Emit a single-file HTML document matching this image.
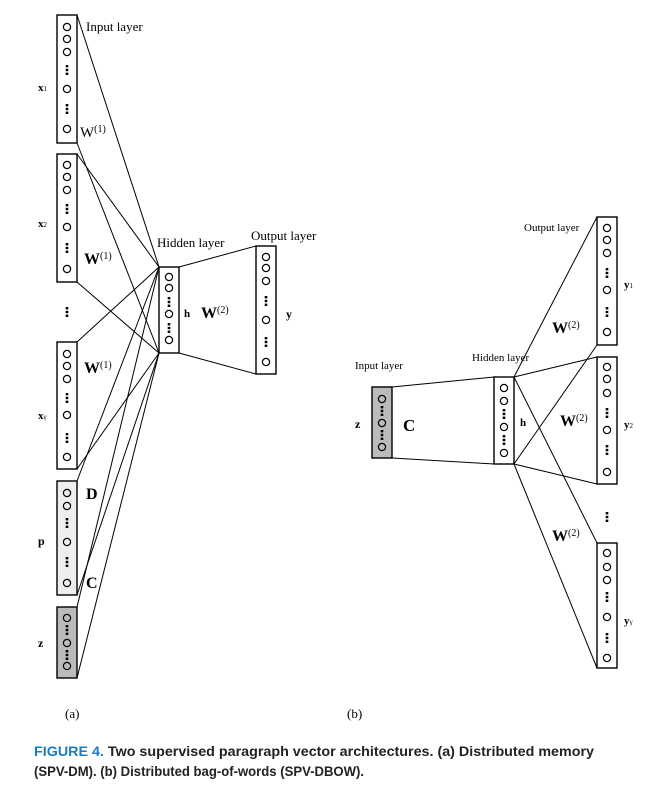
<!DOCTYPE html>
<html><head><meta charset="utf-8"><style>
html,body{margin:0;padding:0;background:#fff;}
svg{display:block;}
.s{font-family:"Liberation Serif",serif;}
</style></head><body>
<svg width="651" height="797" viewBox="0 0 651 797" xmlns="http://www.w3.org/2000/svg">
<defs>
<g id="c"><circle r="3.6" fill="none" stroke="#000" stroke-width="1.2"/></g>
<g id="d"><rect x="-1.3" y="-5" width="2.6" height="2.4" fill="#000"/><rect x="-1.3" y="-1.2" width="2.6" height="2.4" fill="#000"/><rect x="-1.3" y="2.6" width="2.6" height="2.4" fill="#000"/></g>
</defs>
<g stroke="#000" stroke-width="1" fill="none">
<line x1="77" y1="15" x2="159" y2="267"/>
<line x1="77" y1="143" x2="159" y2="353"/>
<line x1="77" y1="154" x2="159" y2="267"/>
<line x1="77" y1="282" x2="159" y2="353"/>
<line x1="77" y1="342" x2="159" y2="267"/>
<line x1="77" y1="469" x2="159" y2="353"/>
<line x1="77" y1="481" x2="159" y2="267"/>
<line x1="77" y1="595" x2="159" y2="353"/>
<line x1="77" y1="607" x2="159" y2="267"/>
<line x1="77" y1="678" x2="159" y2="353"/>
<line x1="179" y1="267" x2="256" y2="246"/>
<line x1="179" y1="353" x2="256" y2="374"/>
<line x1="392" y1="387" x2="494" y2="377"/>
<line x1="392" y1="458" x2="494" y2="464"/>
<line x1="514" y1="377" x2="597" y2="217"/>
<line x1="514" y1="377" x2="597" y2="357"/>
<line x1="514" y1="377" x2="597" y2="543"/>
<line x1="514" y1="464" x2="597" y2="345"/>
<line x1="514" y1="464" x2="597" y2="484"/>
<line x1="514" y1="464" x2="597" y2="668"/>
</g>
<g stroke="#000" stroke-width="1.4">
<rect x="57" y="15" width="20" height="128" fill="#fff"/>
<rect x="57" y="154" width="20" height="128" fill="#fff"/>
<rect x="57" y="342" width="20" height="127" fill="#fff"/>
<rect x="57" y="481" width="20" height="114" fill="#eee"/>
<rect x="57" y="607" width="20" height="71" fill="#bbb"/>
<rect x="159" y="267" width="20" height="86" fill="#fff"/>
<rect x="256" y="246" width="20" height="128" fill="#fff"/>
<rect x="372" y="387" width="20" height="71" fill="#bbb"/>
<rect x="494" y="377" width="20" height="87" fill="#fff"/>
<rect x="597" y="217" width="20" height="128" fill="#fff"/>
<rect x="597" y="357" width="20" height="127" fill="#fff"/>
<rect x="597" y="543" width="20" height="125" fill="#fff"/>
</g>
<g>
<use href="#c" x="67" y="27"/><use href="#c" x="67" y="39"/><use href="#c" x="67" y="52"/><use href="#d" x="67" y="70"/><use href="#c" x="67" y="89"/><use href="#d" x="67" y="109"/><use href="#c" x="67" y="129"/>
<use href="#c" x="67" y="165"/><use href="#c" x="67" y="177"/><use href="#c" x="67" y="190"/><use href="#d" x="67" y="209"/><use href="#c" x="67" y="227"/><use href="#d" x="67" y="248"/><use href="#c" x="67" y="269"/>
<use href="#d" x="67" y="312"/>
<use href="#c" x="67" y="354"/><use href="#c" x="67" y="366"/><use href="#c" x="67" y="379"/><use href="#d" x="67" y="398"/><use href="#c" x="67" y="415"/><use href="#d" x="67" y="438"/><use href="#c" x="67" y="457"/>
<use href="#c" x="67" y="493"/><use href="#c" x="67" y="506"/><use href="#d" x="67" y="523"/><use href="#c" x="67" y="542"/><use href="#d" x="67" y="562"/><use href="#c" x="67" y="583"/>
<use href="#c" x="67" y="618"/><use href="#d" x="67" y="630"/><use href="#c" x="67" y="643"/><use href="#d" x="67" y="655"/><use href="#c" x="67" y="666"/>
<use href="#c" x="169" y="277"/><use href="#c" x="169" y="288"/><use href="#d" x="169" y="302"/><use href="#c" x="169" y="314"/><use href="#d" x="169" y="328"/><use href="#c" x="169" y="340"/>
<use href="#c" x="266" y="257"/><use href="#c" x="266" y="268"/><use href="#c" x="266" y="281"/><use href="#d" x="266" y="301"/><use href="#c" x="266" y="320"/><use href="#d" x="266" y="342"/><use href="#c" x="266" y="362"/>
<use href="#c" x="382" y="399"/><use href="#d" x="382" y="411"/><use href="#c" x="382" y="423"/><use href="#d" x="382" y="435"/><use href="#c" x="382" y="447"/>
<use href="#c" x="504" y="388"/><use href="#c" x="504" y="401"/><use href="#d" x="504" y="414"/><use href="#c" x="504" y="427"/><use href="#d" x="504" y="440"/><use href="#c" x="504" y="453"/>
<use href="#c" x="607" y="228"/><use href="#c" x="607" y="240"/><use href="#c" x="607" y="253"/><use href="#d" x="607" y="273"/><use href="#c" x="607" y="290"/><use href="#d" x="607" y="312"/><use href="#c" x="607" y="332"/>
<use href="#c" x="607" y="367"/><use href="#c" x="607" y="379"/><use href="#c" x="607" y="393"/><use href="#d" x="607" y="413"/><use href="#c" x="607" y="430"/><use href="#d" x="607" y="450"/><use href="#c" x="607" y="472"/>
<use href="#d" x="607" y="517"/>
<use href="#c" x="607" y="553"/><use href="#c" x="607" y="567"/><use href="#c" x="607" y="580"/><use href="#d" x="607" y="597"/><use href="#c" x="607" y="617"/><use href="#d" x="607" y="638"/><use href="#c" x="607" y="658"/>
</g>
<g class="s" fill="#000">
<text x="86" y="31" font-size="13">Input layer</text>
<text x="38" y="91" font-size="11" font-weight="bold">x<tspan font-size="7" font-weight="normal">1</tspan></text>
<text x="80" y="137" font-size="15">W<tspan font-size="10" dy="-5">(1)</tspan></text>
<text x="38" y="227" font-size="11" font-weight="bold">x<tspan font-size="7" font-weight="normal">2</tspan></text>
<text x="84" y="264" font-size="16" font-weight="bold">W<tspan font-size="10" font-weight="normal" dy="-5">(1)</tspan></text>
<text x="84" y="373" font-size="16" font-weight="bold">W<tspan font-size="10" font-weight="normal" dy="-5">(1)</tspan></text>
<text x="38" y="419" font-size="11" font-weight="bold">x<tspan font-size="7" font-weight="normal">γ</tspan></text>
<text x="86" y="499" font-size="16" font-weight="bold">D</text>
<text x="38" y="545" font-size="12" font-weight="bold">p</text>
<text x="86" y="588" font-size="16" font-weight="bold">C</text>
<text x="38" y="647" font-size="12" font-weight="bold">z</text>
<text x="157" y="247" font-size="13">Hidden layer</text>
<text x="251" y="240" font-size="13">Output layer</text>
<text x="184" y="317" font-size="11" font-weight="bold">h</text>
<text x="201" y="318" font-size="16" font-weight="bold">W<tspan font-size="10" font-weight="normal" dy="-5">(2)</tspan></text>
<text x="286" y="318" font-size="12" font-weight="bold">y</text>
<text x="65" y="718" font-size="13">(a)</text>
<text x="347" y="718" font-size="13">(b)</text>
<text x="355" y="369" font-size="11">Input layer</text>
<text x="472" y="361" font-size="11">Hidden layer</text>
<text x="524" y="231" font-size="11">Output layer</text>
<text x="355" y="428" font-size="12" font-weight="bold">z</text>
<text x="403" y="431" font-size="17" font-weight="bold">C</text>
<text x="520" y="426" font-size="11" font-weight="bold">h</text>
<text x="552" y="333" font-size="16" font-weight="bold">W<tspan font-size="10" font-weight="normal" dy="-5">(2)</tspan></text>
<text x="560" y="426" font-size="16" font-weight="bold">W<tspan font-size="10" font-weight="normal" dy="-5">(2)</tspan></text>
<text x="552" y="541" font-size="16" font-weight="bold">W<tspan font-size="10" font-weight="normal" dy="-5">(2)</tspan></text>
<text x="624" y="288" font-size="11" font-weight="bold">y<tspan font-size="7" font-weight="normal">1</tspan></text>
<text x="624" y="428" font-size="11" font-weight="bold">y<tspan font-size="7" font-weight="normal">2</tspan></text>
<text x="624" y="624" font-size="11" font-weight="bold">y<tspan font-size="7" font-weight="normal">γ</tspan></text>
</g>
<g font-family="Liberation Sans, sans-serif" font-weight="bold" font-size="14">
<text x="34" y="756" textLength="560" lengthAdjust="spacingAndGlyphs"><tspan fill="#1a7cc1">FIGURE 4.</tspan><tspan fill="#222">  Two supervised paragraph vector architectures. (a) Distributed memory</tspan></text>
<text x="34" y="776" fill="#222" textLength="330" lengthAdjust="spacingAndGlyphs">(SPV-DM). (b) Distributed bag-of-words (SPV-DBOW).</text>
</g>
</svg>
</body></html>
